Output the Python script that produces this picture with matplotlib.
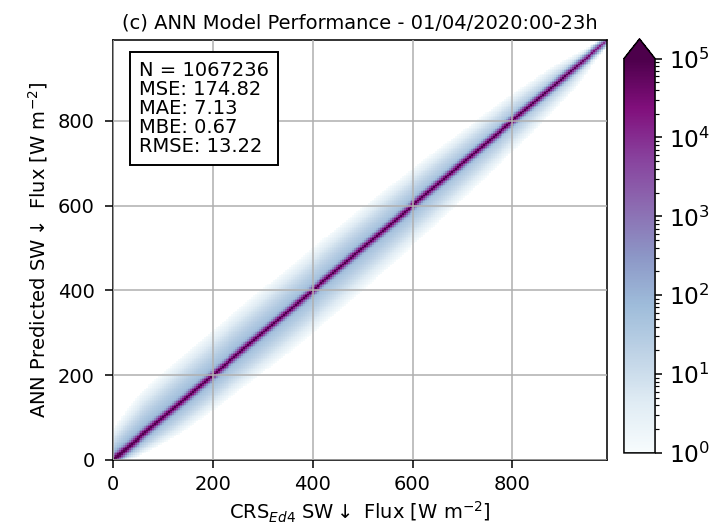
import numpy as np
import matplotlib
matplotlib.use("Agg")
import matplotlib.pyplot as plt
from matplotlib.colors import LogNorm
from matplotlib.ticker import LogLocator, NullFormatter

# ---- values ----
title = "(c) ANN Model Performance - 01/04/2020:00-23h"
stats_lines = ["N = 1067236", "MSE: 174.82", "MAE: 7.13", "MBE: 0.67", "RMSE: 13.22"]
x_ticks = [0, 200, 400, 600, 800]
y_ticks = [0, 200, 400, 600, 800]
flux_max = 990

# along-diagonal description of the 2-D histogram (counts per bin)
knot_flux = [0, 30, 100, 200, 300, 400, 500, 600, 700, 800, 900, 960, 990]
core_peak = [5e5, 3e5, 2e5, 1.6e5, 1.5e5, 1.5e5, 1.5e5, 1.5e5, 1.5e5, 1.4e5, 1e5, 3e4, 4e3]
core_width = [1.9, 1.9, 1.9, 1.9, 1.9, 1.9, 1.9, 1.9, 1.9, 1.9, 1.9, 1.9, 1.9]
halo_peak = [400, 150, 100, 90, 85, 80, 80, 80, 70, 60, 45, 20, 5]
halo_width_above = [15, 40, 62, 66, 66, 64, 62, 58, 52, 46, 34, 20, 8]
halo_width_below = [8, 25, 45, 55, 62, 64, 62, 58, 52, 46, 34, 20, 8]

# ---- build binned counts ----
nb = 250
edges = np.linspace(0, flux_max, nb + 1)
centers = 0.5 * (edges[:-1] + edges[1:])
X, Y = np.meshgrid(centers, centers)
mid = 0.5 * (X + Y)
d = Y - X
cp = np.interp(mid, knot_flux, core_peak)
cw = np.interp(mid, knot_flux, core_width)
hp = np.interp(mid, knot_flux, halo_peak)
hw = np.where(d >= 0, np.interp(mid, knot_flux, halo_width_above),
              np.interp(mid, knot_flux, halo_width_below))
counts = cp * np.exp(-np.abs(d) / cw) + hp * np.exp(-(np.abs(d) / hw) ** 1.4 * 2.3)
counts = np.ma.masked_less(counts, 1.0)

DPI = 140
fig = plt.figure(figsize=(723 / DPI, 526 / DPI), dpi=DPI)
ax = fig.add_axes([0.156, 0.1255, 0.684, 0.798])
cax = fig.add_axes([0.863, 0.139, 0.043, 0.787])

mesh = ax.pcolormesh(edges, edges, counts, cmap="BuPu", norm=LogNorm(vmin=1, vmax=1e5),
                     shading="flat", rasterized=True)
ax.set_xlim(0, flux_max)
ax.set_ylim(0, flux_max)
ax.set_xticks(x_ticks)
ax.set_yticks(y_ticks)
ax.grid(True, color="#b0b0b0", linewidth=0.8)
ax.set_axisbelow(False)
ax.tick_params(labelsize=10, length=4.2)
ax.tick_params(axis="y", pad=5)
ax.tick_params(axis="x", pad=3.5)
ax.set_title(title, fontsize=10)
ax.set_xlabel(r"CRS$_{Ed4}$ SW$\downarrow$ Flux [W m$^{-2}$]", fontsize=10, labelpad=3)
ax.set_ylabel(r"ANN Predicted SW$\downarrow$ Flux [W m$^{-2}$]", fontsize=10)

ax.text(0.053, 0.95, "\n".join(stats_lines), transform=ax.transAxes, fontsize=10,
        va="top", ha="left", linespacing=1.0,
        bbox=dict(boxstyle="square,pad=0.45", fc="white", ec="black", lw=1.0))

cb = fig.colorbar(mesh, cax=cax, extend="max")
cb.ax.yaxis.set_minor_locator(LogLocator(base=10, subs=np.arange(2, 10)))
cb.ax.yaxis.set_minor_formatter(NullFormatter())
cb.ax.tick_params(labelsize=12)

fig.savefig("out.png", dpi=DPI)
